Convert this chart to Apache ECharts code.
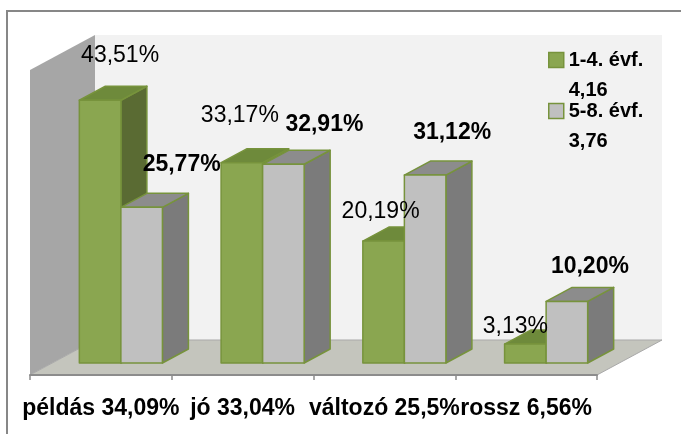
<!DOCTYPE html>
<html>
<head>
<meta charset="utf-8">
<title>Magatartás évfolyamonként</title>
<script src="https://cdn.jsdelivr.net/npm/echarts@6/dist/echarts.min.js"></script>
<style>
  html, body { margin: 0; padding: 0; background: #fff; }
  #chart { width: 681px; height: 434px; }
</style>
</head>
<body>
<div id="chart"></div>
<script>
// kategóriák: név + összesített arány
const categories = ['példás 34,09%', 'jó 33,04%', 'változó 25,5%', 'rossz 6,56%']
// arányok évfolyamonként (%)
const grade14 = [43.51, 33.17, 20.19, 3.13]
const grade58 = [25.77, 32.91, 31.12, 10.20]
const seriesNames = ['1-4. évf.', '5-8. évf.']
const averages = ['4,16', '3,76']
const yMax = 50.5

// címkék kézi eltolása a hasáb tetejéhez képest (px)
const labelShift14 = [[20, -45], [-2, -47], [-3, -29], [-10, -17]]
const labelShift58 = [[40, -43], [41, -40], [27, -42], [23, -35]]

const FONT = '"Liberation Sans", Arial, sans-serif'
const FLOOR_DEPTH = [65, -35]
const BAR_SHIFT = [20, -12]
const BAR_DEPTH = [26, -14]
const EDGE = '#77933c'

const fmt = v => v.toFixed(2).replace('.', ',') + '%'

function wallsRenderer (params, api) {
  const half = api.size([1, 0])[0] / 2
  const a = api.coord([0, 0])
  const b = api.coord([categories.length - 1, 0])
  const t = api.coord([0, yMax])
  const p0 = [a[0] - half, a[1]]
  const p1 = [b[0] + half, b[1]]
  const t0 = [a[0] - half, t[1]]
  const [dx, dy] = FLOOR_DEPTH
  return {
    type: 'group',
    children: [
      { type: 'rect', shape: { x: t0[0] + dx, y: t0[1] + dy, width: p1[0] - p0[0], height: p0[1] - t0[1] }, style: { fill: '#f2f2f2' } },
      { type: 'polygon', shape: { points: [p0, t0, [t0[0] + dx, t0[1] + dy], [p0[0] + dx, p0[1] + dy]] }, style: { fill: '#a6a6a6' } },
      {
        type: 'polygon',
        shape: { points: [p0, p1, [p1[0] + dx, p1[1] + dy], [p0[0] + dx, p0[1] + dy]] },
        style: { fill: '#c4c5bd', stroke: '#a9a9a9', lineWidth: 1 }
      }
    ]
  }
}

function barRenderer (side, shifts, faces, bold) {
  return function (params, api) {
    const cat = api.value(0)
    const val = api.value(1)
    const base = api.coord([cat, 0])
    const top = api.coord([cat, val])
    const bw = api.size([1, 0])[0] * 0.293
    const x0 = base[0] + BAR_SHIFT[0] - (side === 0 ? bw : 0)
    const x1 = x0 + bw
    const yb = base[1] + BAR_SHIFT[1]
    const yt = top[1] + BAR_SHIFT[1]
    const [dx, dy] = BAR_DEPTH
    const edge = { stroke: EDGE, lineWidth: 1.5, lineJoin: 'round' }
    const shift = shifts[params.dataIndex]
    return {
      type: 'group',
      children: [
        { type: 'polygon', shape: { points: [[x1, yt], [x1 + dx, yt + dy], [x1 + dx, yb + dy], [x1, yb]] }, style: { fill: faces.side, ...edge } },
        { type: 'polygon', shape: { points: [[x0, yt], [x0 + dx, yt + dy], [x1 + dx, yt + dy], [x1, yt]] }, style: { fill: faces.top, ...edge } },
        { type: 'rect', shape: { x: x0, y: yt, width: bw, height: yb - yt }, style: { fill: faces.front, ...edge } },
        {
          type: 'text',
          z2: 100,
          x: (x0 + x1) / 2 + shift[0],
          y: yt + shift[1],
          style: {
            text: fmt(val),
            fill: '#000',
            font: (bold ? 'bold ' : '') + '23px ' + FONT,
            align: 'center',
            verticalAlign: 'middle'
          }
        }
      ]
    }
  }
}

const myChart = echarts.init(document.getElementById('chart'))
const option = {
  animation: false,
  backgroundColor: '#fff',
  grid: { left: 30, right: 84, top: 70, bottom: 59 },
  graphic: [
    { type: 'rect', silent: true, shape: { x: 7, y: 11, width: 700, height: 450 }, style: { fill: 'none', stroke: '#878787', lineWidth: 2 } }
  ],
  legend: {
    orient: 'vertical',
    left: 548,
    top: 45,
    padding: 0,
    itemWidth: 15,
    itemHeight: 45,
    itemGap: -9,
    icon: 'path://M0,0H15V15H0Z M0,45',
    itemStyle: { borderColor: EDGE, borderWidth: 1.5 },
    textStyle: { fontSize: 20, fontWeight: 'bold', color: '#000', lineHeight: 30, fontFamily: FONT },
    data: seriesNames.map((n, i) => n + '\n' + averages[i])
  },
  xAxis: {
    type: 'category',
    data: categories,
    z: 5,
    axisLine: { lineStyle: { color: '#8c8c8c', width: 2 } },
    axisTick: { show: true, length: 5, lineStyle: { color: '#8c8c8c', width: 1.5 } },
    axisLabel: { interval: 0, margin: 22, color: '#000', fontSize: 23, fontWeight: 'bold', fontFamily: FONT },
    splitLine: { show: false }
  },
  yAxis: { type: 'value', min: 0, max: yMax, show: false },
  series: [
    {
      type: 'custom',
      name: 'walls',
      silent: true,
      renderItem: wallsRenderer,
      data: [[0, 0]]
    },
    {
      type: 'custom',
      name: seriesNames[0] + '\n' + averages[0],
      itemStyle: { color: '#8aa650', borderColor: EDGE, borderWidth: 1.5 },
      renderItem: barRenderer(0, labelShift14, { front: '#8aa650', top: '#6e8a3b', side: '#5a6b33' }, false),
      data: grade14.map((v, i) => [i, v])
    },
    {
      type: 'custom',
      name: seriesNames[1] + '\n' + averages[1],
      itemStyle: { color: '#c0c0c0', borderColor: EDGE, borderWidth: 1.5 },
      renderItem: barRenderer(1, labelShift58, { front: '#c0c0c0', top: '#8c8c8c', side: '#7b7b7b' }, true),
      data: grade58.map((v, i) => [i, v])
    }
  ]
}
myChart.setOption(option, true)
</script>
</body>
</html>
